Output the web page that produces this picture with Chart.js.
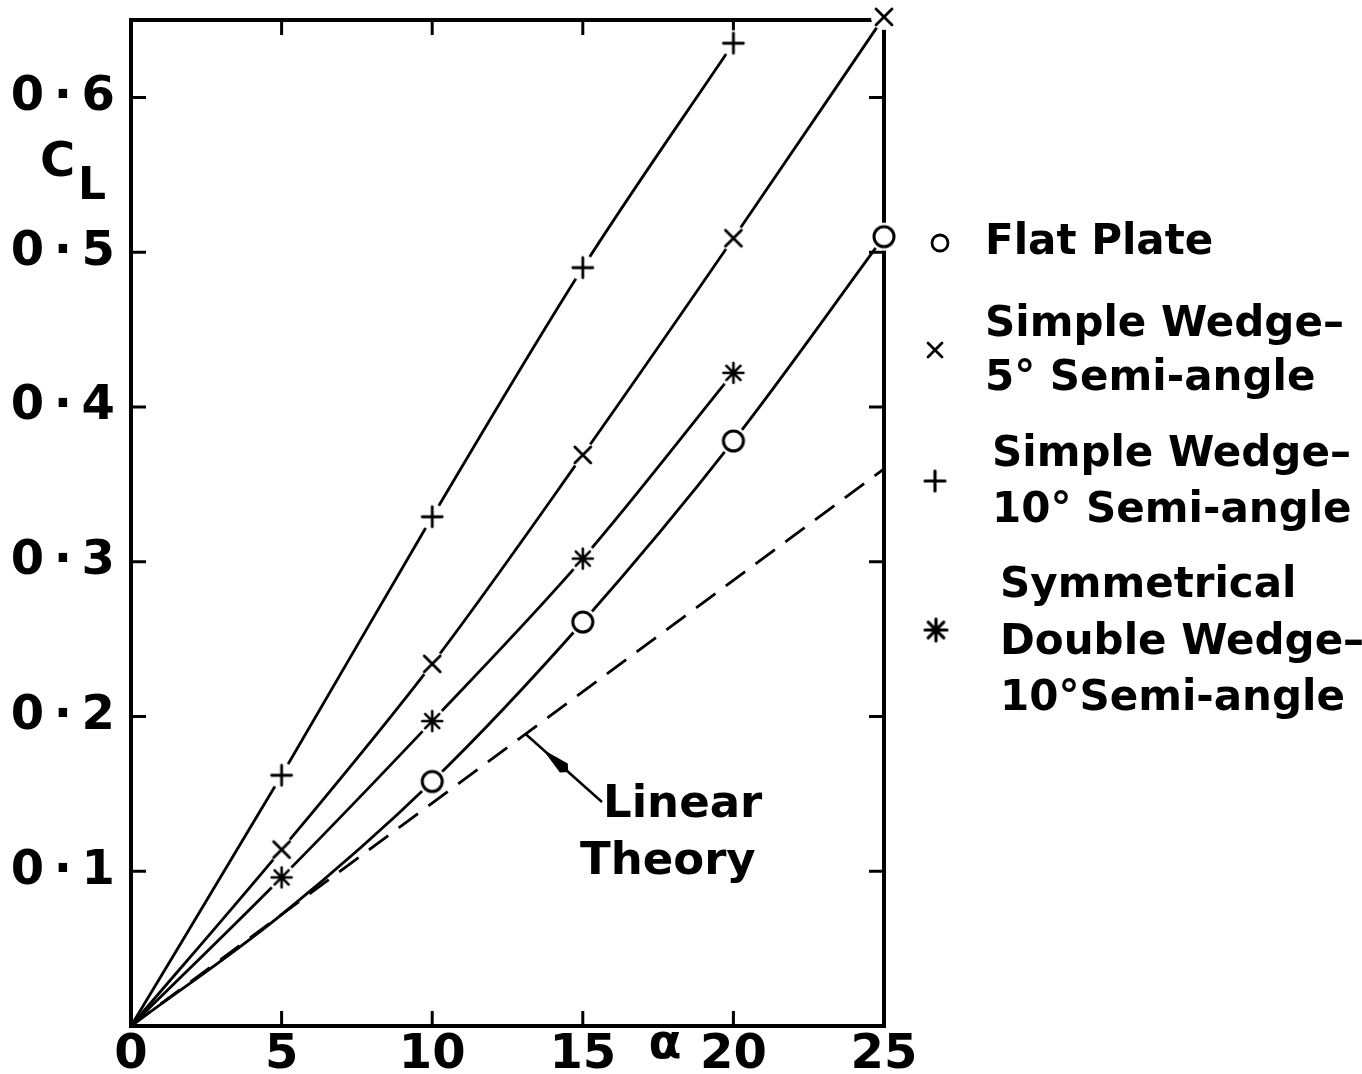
<!DOCTYPE html>
<html><head><meta charset="utf-8">
<script src="https://cdn.jsdelivr.net/npm/chart.js@4.4.1/dist/chart.umd.min.js"></script>
<style>html,body{margin:0;padding:0;background:#fff;}#wrap{width:1362px;height:1074px;}</style>
</head><body><div id="wrap"><canvas id="c" width="1362" height="1074"></canvas></div>
<script>
// ---- data ----
const xTickValues = [0, 5, 10, 15, 20, 25];
const xTickLabels = ['0', '5', '10', '15', '20', '25'];
const yTickValues = [0.1, 0.2, 0.3, 0.4, 0.5, 0.6];
const yTickLabels = ['0\u2009·\u20091', '0\u2009·\u20092', '0\u2009·\u20093', '0\u2009·\u20094', '0\u2009·\u20095', '0\u2009·\u20096'];

const flatAlpha = [0, 5, 10, 15, 20, 25];
const flatCL = [0, 0.072, 0.158, 0.261, 0.378, 0.510];
const flatMarked = [0, 0, 1, 1, 1, 1];

const wedge5Alpha = [0, 5, 10, 15, 20, 25];
const wedge5CL = [0, 0.114, 0.234, 0.369, 0.509, 0.652];
const wedge5Marked = [0, 1, 1, 1, 1, 1];

const wedge10Alpha = [0, 5, 10, 15, 20];
const wedge10CL = [0, 0.162, 0.329, 0.490, 0.635];
const wedge10Marked = [0, 1, 1, 1, 1];

const doubleAlpha = [0, 5, 10, 15, 20];
const doubleCL = [0, 0.096, 0.197, 0.302, 0.422];
const doubleMarked = [0, 1, 1, 1, 1];

const linearAlpha = [0, 25];
const linearCL = [0, 0.36];
const linearArrowAlpha = 13.1;

const legendLines = [
  ['Flat Plate'],
  ['Simple Wedge–', '5° Semi-angle'],
  ['Simple Wedge–', '10° Semi-angle'],
  ['Symmetrical', 'Double Wedge–', '10°Semi-angle']
];

// ---- marker images ----
function makeMarker(type, r, lw, halo) {
  const s = Math.ceil(2 * Math.max(halo, r + lw)) + 2;
  const cv = document.createElement('canvas');
  cv.width = s; cv.height = s;
  const c = cv.getContext('2d');
  const m = s / 2;
  if (halo > 0) { c.fillStyle = '#fff'; c.beginPath(); c.arc(m, m, halo, 0, Math.PI * 2); c.fill(); }
  c.strokeStyle = '#000'; c.lineWidth = lw; c.lineCap = 'round';
  c.beginPath();
  if (type === 'circle') {
    c.fillStyle = '#fff'; c.arc(m, m, r, 0, Math.PI * 2); c.fill(); c.stroke();
  } else if (type === 'cross') {
    c.moveTo(m - r, m - r); c.lineTo(m + r, m + r); c.moveTo(m + r, m - r); c.lineTo(m - r, m + r); c.stroke();
  } else if (type === 'plus') {
    c.moveTo(m - r, m); c.lineTo(m + r, m); c.moveTo(m, m - r); c.lineTo(m, m + r); c.stroke();
  } else if (type === 'star') {
    for (let k = 0; k < 4; k++) {
      const a = k * Math.PI / 4 + Math.PI / 2;
      c.moveTo(m - r * Math.cos(a), m - r * Math.sin(a)); c.lineTo(m + r * Math.cos(a), m + r * Math.sin(a));
    }
    c.stroke();
    c.fillStyle = '#000'; c.beginPath(); c.arc(m, m, lw * 1.2, 0, Math.PI * 2); c.fill();
  }
  return cv;
}
const mkCircle = makeMarker('circle', 10, 3, 14);
const mkCross = makeMarker('cross', 8, 2.8, 13);
const mkPlus = makeMarker('plus', 10, 2.8, 13);
const mkStar = makeMarker('star', 10, 2.6, 14);
const lgCircle = makeMarker('circle', 8, 2.8, 0);
const lgCross = makeMarker('cross', 7, 2.8, 0);
const lgPlus = makeMarker('plus', 10, 3.2, 0);
const lgStar = makeMarker('star', 11, 3.2, 0);

function pts(xs, ys) { return xs.map((x, i) => ({ x: x, y: ys[i] })); }
function radii(marks) { return marks.map(m => m ? 10 : 0); }

const FONT = '"DejaVu Sans", sans-serif';

const annot = {
  id: 'annot',
  beforeDatasetsDraw(chart) {
    const { ctx, chartArea: a, scales } = chart;
    ctx.save();
    ctx.strokeStyle = '#000'; ctx.lineWidth = 4; ctx.lineCap = 'square';
    ctx.beginPath();
    ctx.moveTo(a.left, a.top); ctx.lineTo(a.right, a.top); ctx.lineTo(a.right, a.bottom);
    ctx.stroke();
    ctx.lineWidth = 3; ctx.lineCap = 'butt';
    const tl = 15;
    ctx.beginPath();
    xTickValues.forEach(v => {
      if (v <= 0 || v >= 25) return;
      const x = scales.x.getPixelForValue(v);
      ctx.moveTo(x, a.bottom); ctx.lineTo(x, a.bottom - tl);
      ctx.moveTo(x, a.top); ctx.lineTo(x, a.top + tl);
    });
    yTickValues.forEach(v => {
      const y = scales.y.getPixelForValue(v);
      ctx.moveTo(a.left, y); ctx.lineTo(a.left + tl, y);
      ctx.moveTo(a.right, y); ctx.lineTo(a.right - tl, y);
    });
    ctx.stroke();
    ctx.restore();
  },
  afterDraw(chart) {
    const { ctx, scales } = chart;
    ctx.save();
    ctx.fillStyle = '#000';
    ctx.textBaseline = 'middle';
    // axis titles
    ctx.textAlign = 'left';
    ctx.font = 'bold 48px ' + FONT;
    ctx.fillText('C', 40, 164);
    ctx.font = 'bold 44px ' + FONT;
    ctx.fillText('L', 78, 188);
    ctx.font = 'bold 48px ' + FONT;
    ctx.textAlign = 'center';
    ctx.fillText('α', 665, 1046);
    // linear theory label + arrow
    const tx = scales.x.getPixelForValue(linearArrowAlpha);
    const ty = scales.y.getPixelForValue(linearCL[1] / linearAlpha[1] * linearArrowAlpha);
    const sx = 602, sy = 802;
    ctx.strokeStyle = '#000'; ctx.lineWidth = 2.5;
    ctx.beginPath(); ctx.moveTo(sx, sy); ctx.lineTo(tx, ty); ctx.stroke();
    const dx = tx - sx, dy = ty - sy, L = Math.hypot(dx, dy);
    const ux = dx / L, uy = dy / L, px = -uy, py = ux;
    const hx = sx + ux * L * 0.50, hy = sy + uy * L * 0.50;
    ctx.beginPath();
    ctx.moveTo(hx + ux * 28, hy + uy * 28);
    ctx.lineTo(hx + px * 6, hy + py * 6);
    ctx.lineTo(hx - ux * 6, hy - uy * 6);
    ctx.lineTo(hx - px * 6, hy - py * 6);
    ctx.closePath(); ctx.fill();
    ctx.font = 'bold 45px ' + FONT;
    ctx.textAlign = 'left';
    ctx.fillText('Linear', 603, 805);
    ctx.fillText('Theory', 580, 862);
    // legend
    ctx.font = 'bold 42px ' + FONT;
    const rows = [
      { mk: lgCircle, mx: 940, my: 243, tx: 985, ys: [243] },
      { mk: lgCross, mx: 935, my: 350, tx: 985, ys: [325, 379] },
      { mk: lgPlus, mx: 935, my: 481, tx: 992, ys: [455, 511] },
      { mk: lgStar, mx: 936, my: 630, tx: 1000, ys: [586, 643, 699] }
    ];
    rows.forEach((r, i) => {
      ctx.drawImage(r.mk, r.mx - r.mk.width / 2, r.my - r.mk.height / 2);
      legendLines[i].forEach((t, j) => ctx.fillText(t, r.tx, r.ys[j]));
    });
    ctx.restore();
  }
};

const common = { borderColor: '#000', borderWidth: 2.8, fill: false, cubicInterpolationMode: 'monotone', clip: false, showLine: true, pointHoverRadius: 10 };

new Chart(document.getElementById('c'), {
  type: 'scatter',
  data: {
    datasets: [
      Object.assign({}, common, { label: 'Flat Plate', data: pts(flatAlpha, flatCL), pointStyle: mkCircle, pointRadius: radii(flatMarked) }),
      Object.assign({}, common, { label: 'Simple Wedge 5°', data: pts(wedge5Alpha, wedge5CL), pointStyle: mkCross, pointRadius: radii(wedge5Marked) }),
      Object.assign({}, common, { label: 'Simple Wedge 10°', data: pts(wedge10Alpha, wedge10CL), pointStyle: mkPlus, pointRadius: radii(wedge10Marked) }),
      Object.assign({}, common, { label: 'Symmetrical Double Wedge 10°', data: pts(doubleAlpha, doubleCL), pointStyle: mkStar, pointRadius: radii(doubleMarked) }),
      Object.assign({}, common, { label: 'Linear Theory', data: pts(linearAlpha, linearCL), pointRadius: 0, borderDash: [24, 13], cubicInterpolationMode: 'default', tension: 0 })
    ]
  },
  options: {
    responsive: false, animation: false, devicePixelRatio: 1, events: [],
    layout: { padding: { left: 0, right: 478, top: 20, bottom: 0 } },
    plugins: { legend: { display: false }, tooltip: { enabled: false } },
    scales: {
      x: {
        type: 'linear', min: 0, max: 25,
        afterBuildTicks: s => { s.ticks = xTickValues.map(v => ({ value: v })); },
        afterFit: s => { s.height = 48; s.paddingLeft = 0; s.paddingRight = 0; },
        grid: { drawOnChartArea: false, drawTicks: false, color: 'rgba(0,0,0,0)' },
        border: { display: true, color: '#000', width: 4 },
        ticks: { autoSkip: false, maxRotation: 0, padding: 6, color: '#000',
          font: { family: FONT, size: 48, weight: 'bold', lineHeight: 1 },
          callback: v => xTickLabels[xTickValues.indexOf(v)] }
      },
      y: {
        type: 'linear', min: 0, max: 0.65,
        afterBuildTicks: s => { s.ticks = yTickValues.map(v => ({ value: v })); },
        afterFit: s => { s.width = 131; s.paddingTop = 0; s.paddingBottom = 0; },
        grid: { drawOnChartArea: false, drawTicks: false, color: 'rgba(0,0,0,0)' },
        border: { display: true, color: '#000', width: 4 },
        ticks: { autoSkip: false, padding: 16, color: '#000',
          font: { family: FONT, size: 48, weight: 'bold', lineHeight: 1 },
          callback: v => { const i = yTickValues.findIndex(t => Math.abs(t - v) < 1e-9); return i >= 0 ? yTickLabels[i] : ''; } }
      }
    }
  },
  plugins: [annot]
});
</script>
</body></html>
